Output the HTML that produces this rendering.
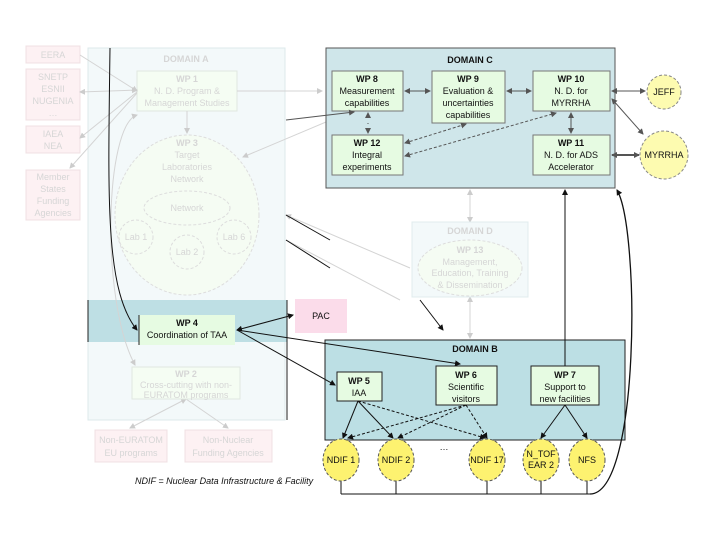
<!DOCTYPE html>
<html><head><meta charset="utf-8"><style>
body{margin:0;background:#fff}
svg{display:block;font-family:"Liberation Sans",sans-serif}
.f{fill:#d6d6d6;font-size:9px;text-anchor:middle}
.t{fill:#111;font-size:9px;text-anchor:middle}
.b{font-weight:bold}
</style></head><body>
<svg width="720" height="540" viewBox="0 0 720 540" xmlns="http://www.w3.org/2000/svg">
<defs>
<marker id="a" markerUnits="userSpaceOnUse" markerWidth="6" markerHeight="6" refX="5" refY="3" orient="auto-start-reverse"><path d="M0,0L6,3L0,6z" fill="#111"/></marker>
<marker id="g" markerUnits="userSpaceOnUse" markerWidth="6" markerHeight="6" refX="5" refY="3" orient="auto-start-reverse"><path d="M0,0L6,3L0,6z" fill="#555"/></marker>
<marker id="l" markerUnits="userSpaceOnUse" markerWidth="6" markerHeight="6" refX="5" refY="3" orient="auto-start-reverse"><path d="M0,0L6,3L0,6z" fill="#ccc"/></marker>
</defs>
<rect x="88" y="48" width="197" height="372" fill="#f3f9fa" stroke="#dde9eb"/>
<rect x="88" y="300" width="199" height="42" fill="#bedfe4"/>
<line x1="88" y1="300" x2="88" y2="342" stroke="#222"/>
<line x1="287" y1="300" x2="287" y2="420" stroke="#222"/>
<text x="186" y="62" class="f b" font-size="10">DOMAIN A</text>
<rect x="26" y="46" width="54" height="17" fill="#fdf1f3" stroke="#f0e0e3"/><text x="53" y="58" class="f">EERA</text>
<rect x="26" y="69" width="54" height="51" fill="#fdf1f3" stroke="#f0e0e3"/>
<text x="53" y="80" class="f">SNETP</text><text x="53" y="92" class="f">ESNII</text><text x="53" y="104" class="f">NUGENIA</text><text x="53" y="116" class="f">…</text>
<rect x="26" y="126" width="54" height="27" fill="#fdf1f3" stroke="#f0e0e3"/><text x="53" y="137" class="f">IAEA</text><text x="53" y="149" class="f">NEA</text>
<rect x="26" y="170" width="54" height="50" fill="#fdf1f3" stroke="#f0e0e3"/>
<text x="53" y="180" class="f">Member</text><text x="53" y="192" class="f">States</text><text x="53" y="204" class="f">Funding</text><text x="53" y="216" class="f">Agencies</text>
<rect x="137" y="71" width="100" height="40" fill="#f5fdf3" stroke="#e0e8e0"/>
<text x="187" y="82" class="f b">WP 1</text><text x="187" y="94" class="f">N. D. Program &amp;</text><text x="187" y="106" class="f">Management Studies</text>
<ellipse cx="187" cy="215" rx="72" ry="80" fill="#f5fcf3" stroke="#ddd" stroke-dasharray="3,2"/>
<text x="187" y="146" class="f b">WP 3</text><text x="187" y="158" class="f">Target</text><text x="187" y="170" class="f">Laboratories</text><text x="187" y="182" class="f">Network</text>
<ellipse cx="187" cy="208" rx="43" ry="17" fill="none" stroke="#ddd" stroke-dasharray="3,2"/><text x="187" y="211" class="f">Network</text>
<circle cx="136" cy="237" r="17" fill="none" stroke="#ddd" stroke-dasharray="3,2"/><text x="136" y="240" class="f">Lab 1</text>
<circle cx="187" cy="252" r="17" fill="none" stroke="#ddd" stroke-dasharray="3,2"/><text x="187" y="255" class="f">Lab 2</text>
<circle cx="234" cy="237" r="17" fill="none" stroke="#ddd" stroke-dasharray="3,2"/><text x="234" y="240" class="f">Lab 6</text>
<g stroke="#d4d4d4" fill="none">
<path d="M80,55L137,91" marker-end="url(#l)"/><path d="M80,92L137,90" marker-start="url(#l)" marker-end="url(#l)"/>
<path d="M80,138L137,92" marker-start="url(#l)"/><path d="M70,168L137,93" marker-start="url(#l)"/>
<path d="M237,91L322,91" marker-end="url(#l)"/><path d="M187,111L187,133" marker-end="url(#l)"/>
<path d="M326,122L243,157" marker-end="url(#l)"/>
<path d="M137,115C105,125 100,300 135,365" marker-start="url(#l)" marker-end="url(#l)"/>
<path d="M286,215L410,268" marker-start="url(#l)"/><path d="M286,240L400,300"/>
<path d="M470,222L470,190" marker-start="url(#l)" marker-end="url(#l)"/>
<path d="M470,297L470,338" marker-start="url(#l)" marker-end="url(#l)"/>
<path d="M186,399L130,428" marker-start="url(#l)" marker-end="url(#l)"/><path d="M186,399L228,428" marker-end="url(#l)"/>
</g>
<rect x="132" y="367" width="108" height="32" fill="#f5fdf3" stroke="#e0e8e0"/>
<text x="186" y="377" class="f b">WP 2</text><text x="186" y="388" class="f">Cross-cutting with non-</text><text x="186" y="398" class="f">EURATOM programs</text>
<rect x="95" y="430" width="72" height="32" fill="#fdf1f3" stroke="#f0e0e3"/><text x="131" y="443" class="f">Non-EURATOM</text><text x="131" y="456" class="f">EU programs</text>
<rect x="185" y="430" width="87" height="32" fill="#fdf1f3" stroke="#f0e0e3"/><text x="228" y="443" class="f">Non-Nuclear</text><text x="228" y="456" class="f">Funding Agencies</text>
<rect x="412" y="222" width="116" height="75" fill="#f3f9fa" stroke="#e0ecee"/>
<text x="470" y="234" class="f b">DOMAIN D</text>
<ellipse cx="470" cy="268" rx="52" ry="28" fill="#f5fcf3" stroke="#ddd" stroke-dasharray="3,2"/>
<text x="470" y="253" class="f b">WP 13</text><text x="470" y="265" class="f">Management,</text><text x="470" y="276" class="f">Education, Training</text><text x="470" y="288" class="f">&amp; Dissemination</text>
<rect x="326" y="48" width="289" height="140" fill="#cfe6ea" stroke="#555"/>
<text x="470" y="63" class="t b" font-size="10" fill="#333">DOMAIN C</text>
<g fill="#e6fbe2" stroke="#777">
<rect x="332" y="71" width="71" height="40"/><rect x="432" y="71" width="73" height="52"/><rect x="533" y="71" width="77" height="40"/>
<rect x="332" y="135" width="71" height="40"/><rect x="533" y="135" width="77" height="40"/></g>
<text x="367" y="82" class="t b">WP 8</text><text x="367" y="94" class="t">Measurement</text><text x="367" y="106" class="t">capabilities</text>
<text x="468" y="82" class="t b">WP 9</text><text x="468" y="94" class="t">Evaluation &amp;</text><text x="468" y="106" class="t">uncertainties</text><text x="468" y="118" class="t">capabilities</text>
<text x="571" y="82" class="t b">WP 10</text><text x="571" y="94" class="t">N. D. for</text><text x="571" y="106" class="t">MYRRHA</text>
<text x="367" y="146" class="t b">WP 12</text><text x="367" y="158" class="t">Integral</text><text x="367" y="170" class="t">experiments</text>
<text x="571" y="146" class="t b">WP 11</text><text x="571" y="158" class="t">N. D. for ADS</text><text x="571" y="170" class="t">Accelerator</text>
<g stroke="#555" fill="none">
<path d="M405,91L430,91" marker-start="url(#g)" marker-end="url(#g)"/>
<path d="M507,91L531,91" marker-start="url(#g)" marker-end="url(#g)"/>
<path d="M368,113L368,133" marker-start="url(#g)" marker-end="url(#g)" stroke-dasharray="1,9"/>
<path d="M571,113L571,133" marker-start="url(#g)" marker-end="url(#g)"/>
<path d="M405,143L466,124" marker-start="url(#g)" marker-end="url(#g)" stroke-dasharray="3,2"/>
<path d="M405,156L556,113" marker-start="url(#g)" marker-end="url(#g)" stroke-dasharray="3,2"/>
<path d="M612,91L645,91" marker-start="url(#g)" marker-end="url(#g)"/>
<path d="M612,99L643,134" marker-start="url(#g)" marker-end="url(#g)"/>
<path d="M612,155L639,155" marker-start="url(#g)" marker-end="url(#g)" stroke-width="2"/>
<path d="M286,120L354,112" marker-end="url(#g)"/>
</g>
<circle cx="664" cy="92" r="17" fill="#fdfbb0" stroke="#888" stroke-dasharray="3,2"/><text x="664" y="95" class="t">JEFF</text>
<circle cx="664" cy="155" r="24" fill="#fdfbb0" stroke="#888" stroke-dasharray="3,2"/><text x="664" y="158" class="t">MYRRHA</text>
<rect x="325" y="340" width="300" height="100" fill="#bcdfe4" stroke="#222"/>
<text x="475" y="352" class="t b" font-size="10">DOMAIN B</text>
<rect x="295" y="299" width="52" height="34" fill="#fbdcea"/><text x="321" y="319" class="t">PAC</text>
<rect x="139" y="315" width="96" height="30" fill="#e6fbe2"/><line x1="139" y1="315" x2="139" y2="345" stroke="#222"/>
<text x="187" y="326" class="t b">WP 4</text><text x="187" y="338" class="t">Coordination of TAA</text>
<g fill="#e6fbe2" stroke="#222"><rect x="337" y="372" width="45" height="29"/><rect x="436" y="366" width="61" height="39"/><rect x="531" y="366" width="68" height="39"/></g>
<text x="359" y="384" class="t b">WP 5</text><text x="359" y="396" class="t">IAA</text>
<text x="466" y="378" class="t b">WP 6</text><text x="466" y="390" class="t">Scientific</text><text x="466" y="402" class="t">visitors</text>
<text x="565" y="378" class="t b">WP 7</text><text x="565" y="390" class="t">Support to</text><text x="565" y="402" class="t">new facilities</text>
<g stroke="#111" fill="none">
<path d="M237,330L293,315" marker-start="url(#a)" marker-end="url(#a)"/>
<path d="M237,330L335,385" marker-end="url(#a)"/>
<path d="M237,330L460,364" marker-end="url(#a)"/>
<path d="M286,215L330,240"/><path d="M286,240L330,268"/>
<path d="M110,48C108,200 105,290 137,330" marker-end="url(#a)"/>
<path d="M565,366L565,190" marker-end="url(#a)"/>
<path d="M341,494L590,494M341,480V494M396,480V494M487,480V494M541,480V494M587,480V494"/>
<path d="M590,494C640,494 640,230 617,190" marker-end="url(#a)" stroke-width="1.3"/>
<path d="M358,401L343,438" marker-end="url(#a)"/><path d="M358,401L393,438" marker-end="url(#a)"/>
<path d="M358,401L485,438" marker-end="url(#a)" stroke-dasharray="3,2"/>
<path d="M466,405L348,438" marker-end="url(#a)" stroke-dasharray="3,2"/>
<path d="M466,405L398,438" marker-end="url(#a)" stroke-dasharray="3,2"/>
<path d="M466,405L487,438" marker-end="url(#a)" stroke-dasharray="3,2"/>
<path d="M565,405L541,438" marker-end="url(#a)"/><path d="M565,405L587,438" marker-end="url(#a)"/>
<path d="M420,300L443,330" marker-end="url(#a)"/>
</g>
<g fill="#fdf270" stroke="#555" stroke-dasharray="3,2">
<ellipse cx="341" cy="460" rx="18" ry="21"/><ellipse cx="396" cy="460" rx="18" ry="21"/><ellipse cx="487" cy="460" rx="18" ry="21"/><ellipse cx="541" cy="460" rx="18" ry="21"/><ellipse cx="587" cy="460" rx="18" ry="21"/></g>
<text x="341" y="463" class="t">NDIF 1</text><text x="396" y="463" class="t">NDIF 2</text><text x="444" y="450" class="t">…</text><text x="487" y="463" class="t">NDIF 17</text>
<text x="541" y="457" class="t">N_TOF</text><text x="541" y="468" class="t">EAR 2</text><text x="587" y="463" class="t">NFS</text>
<text x="135" y="484" font-size="9" font-style="italic" fill="#111">NDIF = Nuclear Data Infrastructure &amp; Facility</text>
</svg>
</body></html>
